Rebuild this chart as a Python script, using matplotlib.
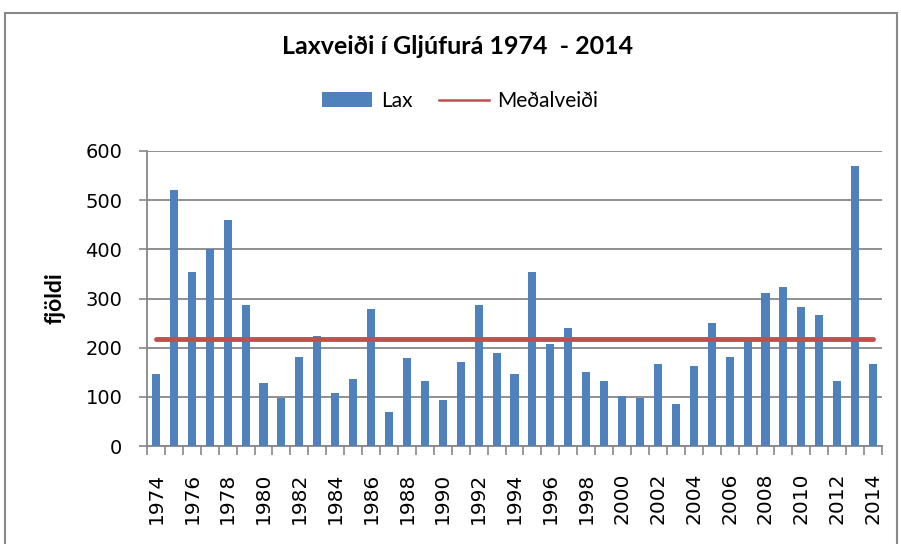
import matplotlib
matplotlib.use("Agg")
import matplotlib.pyplot as plt
from matplotlib.patches import Rectangle, Patch
from matplotlib.lines import Line2D
import numpy as np

plt.rcParams['font.family'] = ['Lato', 'DejaVu Sans']

# Laxveiði í Gljúfurá, fjöldi laxa á ári
years = list(range(1974, 2015))
lax = [147, 520, 354, 401, 460, 286, 128, 97, 182, 223,
       108, 136, 278, 70, 178, 132, 93, 170, 286, 189,
       147, 354, 208, 239, 151, 132, 101, 97, 167, 86,
       163, 251, 182, 216, 312, 324, 282, 267, 132, 569,
       167]
medalveidi = 218
yticks = [0, 100, 200, 300, 400, 500, 600]

bar_color = '#4F81BD'
line_color = '#C0504D'
grid_color = '#878787'
tick_font = 'DejaVu Sans'

fig = plt.figure(figsize=(9.01, 5.44), dpi=100)
ax = fig.add_axes([147 / 901, 1 - 446 / 544, (882 - 147) / 901, (446 - 151) / 544])

x = np.arange(len(years))
ax.bar(x, lax, width=0.45, color=bar_color, zorder=3)
ax.plot([x[0], x[-1]], [medalveidi, medalveidi], color=line_color, lw=3.5,
        solid_capstyle='round', zorder=4)

ax.set_xlim(-0.5, len(years) - 0.5)
ax.set_ylim(0, 600)
ax.set_yticks(yticks)
ax.set_yticklabels([str(v) for v in yticks], family=tick_font, fontsize=14)
ax.yaxis.grid(True, color=grid_color, lw=1.3, zorder=0)
ax.set_axisbelow(True)

# year labels every other year, tick marks between categories
ax.set_xticks(x[::2])
ax.set_xticklabels([str(y) for y in years[::2]], rotation=90, family=tick_font, fontsize=14.5)
ax.set_xticks(np.arange(-0.5, len(years), 1), minor=True)
ax.tick_params(axis='x', which='major', length=0, pad=19)
ax.tick_params(axis='x', which='minor', length=6.5, color=grid_color, width=1.2)
ax.tick_params(axis='y', length=5.8, color=grid_color, width=1.2, pad=12)

for s in ['top', 'right']:
    ax.spines[s].set_visible(False)
for s in ['left', 'bottom']:
    ax.spines[s].set_color(grid_color)
    ax.spines[s].set_linewidth(1.3)

ax.set_ylabel('fjöldi', fontsize=16.5, fontweight='bold', labelpad=14)

fig.text(0.508, 1 - 46 / 544, 'Laxveiði í Gljúfurá 1974  - 2014', ha='center', va='center',
         fontsize=18, fontweight='bold')

handles = [Patch(facecolor=bar_color, label='Lax'),
           Line2D([0], [0], color=line_color, lw=1.8, label='Meðalveiði')]
fig.legend(handles=handles, loc='center', bbox_to_anchor=(0.511, 1 - 101 / 544), ncol=2,
           frameon=False, fontsize=15, handlelength=2.4, handleheight=0.75,
           columnspacing=1.3, handletextpad=0.4)

# outer chart border
fig.patches.append(Rectangle((5 / 901, -0.01), 892 / 901, 1 - 13 / 544 + 0.01,
                             transform=fig.transFigure, fill=False,
                             edgecolor='#888888', lw=1.5))

fig.savefig('out.png', dpi=100)
